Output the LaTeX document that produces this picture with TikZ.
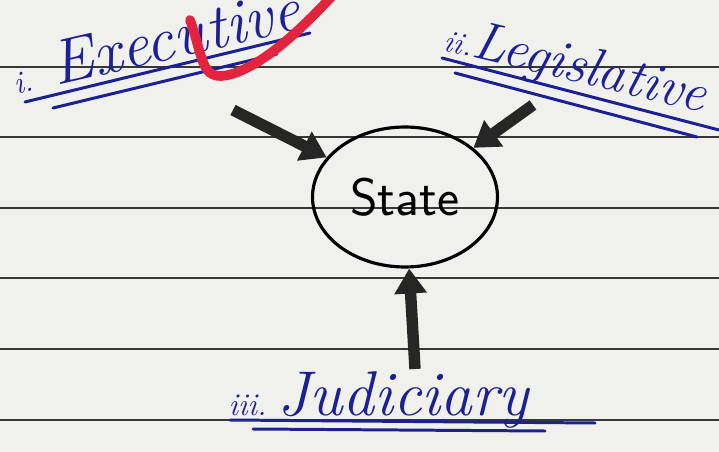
\documentclass[tikz,border=0pt]{standalone}
\usepackage{fontspec}
\usetikzlibrary{shapes.geometric,arrows.meta}
\definecolor{paper}{RGB}{240,240,237}
\definecolor{rule}{RGB}{55,55,55}
\definecolor{ink}{RGB}{28,32,150}
\definecolor{tick}{RGB}{226,36,62}
\newcommand{\numsize}{\fontsize{18}{20}\selectfont}
\newcommand{\labsize}{\fontsize{36}{40}\selectfont}
\tikzset{
  label/.style={text=ink, font=\labsize\itshape, inner sep=0pt},
  uline/.style={draw=ink, line width=1.7pt, line cap=round},
  push/.style={draw=black!85, line width=6.5pt, -{Triangle[length=0.5cm,width=0.62cm]}}
}
\begin{document}
\begin{tikzpicture}[x=0.02cm, y=-0.02cm, thick]
\fill[paper] (0,0) rectangle (719,452);
\useasboundingbox (0,0) rectangle (719,452);
% ruled paper
\foreach \y in {67,137,208,278,349,420}
  \draw[rule, line width=1.7pt] (0,\y) -- (719,\y);
% the three labels
\node[label, anchor=base west, rotate=13] (exec) at (16,95) {{\numsize i.}\ Executive};
\node[label, anchor=base west, rotate=-13.5, font=\fontsize{31}{34}\itshape] (legis) at (442,50) {{\numsize ii.}Legislative};
\node[label, anchor=base west] (judic) at (228,415) {{\numsize iii.}\,Judiciary};
\draw[uline] (25,102) -- (310,33);
\draw[uline] (53,108) -- (277,54);
\draw[uline] (442,58) -- (719,130);
\draw[uline] (455,73) -- (697,137);
\draw[uline] (230,420) -- (595,423);
\draw[uline] (253,429) -- (545,431);
% centre
\node[draw, ellipse, line width=1.8pt, minimum width=3.7cm, minimum height=2.8cm,
  font=\fontsize{30}{34}\sffamily] (state) at (405,197) {State};
\coordinate (t1) at (233,110);
\coordinate (t2) at (533,105);
\coordinate (t3) at (415,369);
\draw[push] (t1) -- (state);
\draw[push] (t2) -- (state);
\draw[push] (t3) -- (state);
% teacher's tick
\draw[tick, line width=5.5pt, line cap=round]
  (190,20) .. controls (205,62) and (200,86) .. (238,72)
  .. controls (272,58) and (305,25) .. (334,-6);
\end{tikzpicture}
\end{document}
